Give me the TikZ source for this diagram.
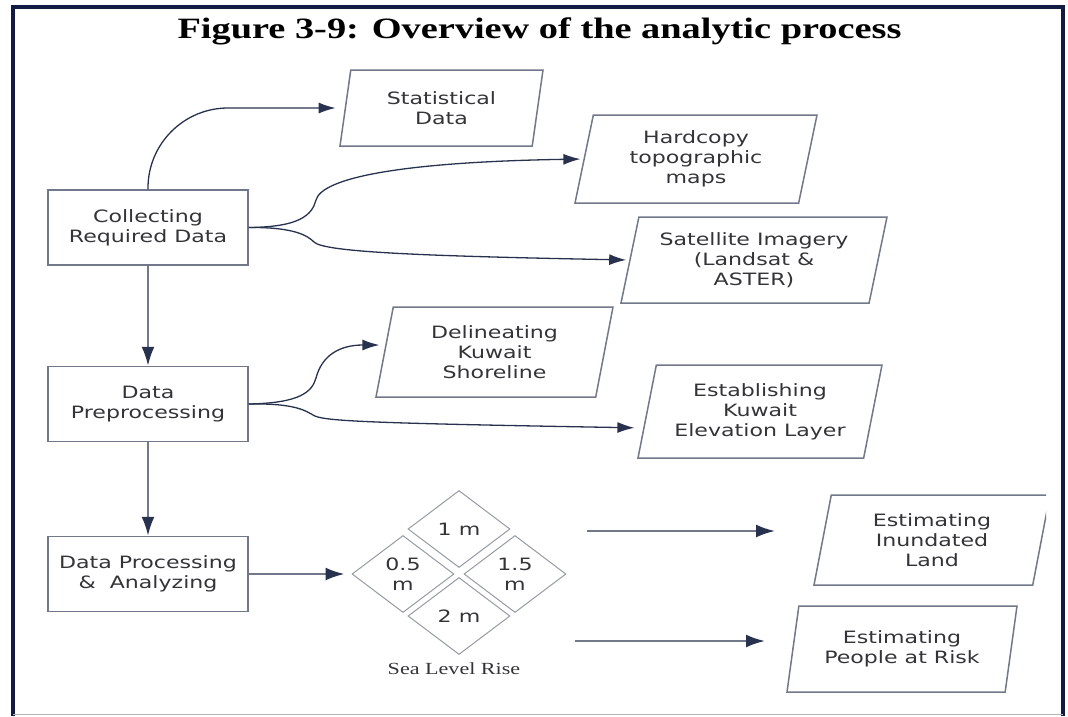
\documentclass[tikz,border=0pt]{standalone}
\usepackage{fontspec}
\usepackage{tikz}
\newfontfamily\titlefont[FakeStretch=1.3]{Liberation Serif}
\newfontfamily\boxfont[FakeStretch=1.3]{DejaVu Sans}
\definecolor{framenavy}{RGB}{18,28,66}
\definecolor{boxgray}{RGB}{112,120,138}
\definecolor{linenavy}{RGB}{40,50,78}
\definecolor{txtgray}{RGB}{52,52,56}
\definecolor{diagray}{RGB}{150,154,164}
\usetikzlibrary{shapes.geometric, arrows.meta}
\tikzstyle{line} = [draw=linenavy, line width=1.3pt, -{Latex[length=17pt,width=11pt]}, shorten >=3pt]
\tikzstyle{vline} = [draw=boxgray, line width=2.2pt, -{Latex[length=19pt,width=13pt,color=linenavy]}]

\begin{document}
\begin{tikzpicture}[x=1pt, y=1pt,
				procbox/.style={draw=boxgray, line width=1.5pt, rectangle, minimum width=200pt, minimum height=75pt, align=center, text=txtgray, font=\boxfont\fontsize{17pt}{20pt}\selectfont},
				databox/.style={draw=boxgray, line width=1.5pt, trapezium, trapezium left angle=72, trapezium right angle=108, trapezium stretches body, inner sep=0pt, align=center, text=txtgray, font=\boxfont\fontsize{17pt}{20pt}\selectfont},
				level/.style={draw=diagray, line width=1pt, diamond, aspect=1.3, inner sep=0pt, minimum width=102pt, minimum height=77pt, align=center, text=txtgray, font=\boxfont\fontsize{17pt}{20pt}\selectfont}]
				\useasboundingbox (0,0) rectangle (1068,-716);
				% Rahmen
				\draw[framenavy, line width=4pt] (13,-716) -- (13,-7) -- (1063,-7) -- (1063,-716);
				\draw[gray!60, line width=1pt] (13,-714.5) -- (1063,-714.5);
				\node[anchor=base, font=\titlefont\bfseries\fontsize{29.5pt}{34pt}\selectfont] (title) at (539.5,-38) {Figure 3-9: Overview of the analytic process};
				% Prozesskette
				\node[procbox] (coll) at (148,-227.5) {Collecting\\Required Data};
				\node[procbox] (prep) at (148,-404) {Data\\Preprocessing};
				\node[procbox] (proc) at (148,-574) {Data Processing\\\&\ \ Analyzing};
				% Daten
				\node[databox, minimum width=203pt, minimum height=76pt] (stat) at (441.5,-108) {Statistical\\Data};
				\node[databox, minimum width=242pt, minimum height=88pt] (hard) at (696,-159) {Hardcopy\\topographic\\maps};
				\node[databox, minimum width=266pt, minimum height=86pt] (sat) at (754,-260) {Satellite Imagery\\(Landsat \&\\ASTER)};
				\node[databox, minimum width=237pt, minimum height=90pt] (delin) at (494.5,-352) {Delineating\\Kuwait\\Shoreline};
				\node[databox, minimum width=244pt, minimum height=93pt] (estab) at (760,-411.5) {Establishing\\Kuwait\\Elevation Layer};
				\begin{scope}
					\clip (0,0) rectangle (1046,-716);
					\node[databox, minimum width=236pt, minimum height=90pt] (inund) at (932,-540) {Estimating\\Inundated\\Land};
				\end{scope}
				\node[databox, minimum width=230pt, minimum height=86pt] (risk) at (902,-649) {Estimating\\People at Risk};
				% Meeresspiegel
				\node[level] (d1) at (459,-529) {1 m};
				\node[level] (d05) at (403,-574) {0.5\\m};
				\node[level] (d15) at (515,-574) {1.5\\m};
				\node[level] (d2) at (459,-616) {2 m};
				\node[text=txtgray, font=\titlefont\fontsize{17pt}{20pt}\selectfont] (sea) at (454,-669) {Sea Level Rise};
				\coordinate (up1) at (587,-531);
				\coordinate (up2) at (775,-531);
				\coordinate (low1) at (575,-641);
				\coordinate (low2) at (765,-641);
				% Pfeile
				\draw[vline] (coll.south) -- (prep.north);
				\draw[vline] (prep.south) -- (proc.north);
				\draw[vline, shorten >=7pt] (proc.east) -- (d05.west);
				\draw[vline] (up1) -- (up2);
				\draw[vline] (low1) -- (low2);
				\draw[line, rounded corners=80pt, shorten >=9pt] (coll.north) |- (stat.west);
				\draw[line] (coll.east) .. controls (300,-227) and (312,-215) .. (316,-200) .. controls (322,-178) and (400,-162) .. (hard.west);
				\draw[line] (coll.east) .. controls (295,-227) and (308,-236) .. (314,-242) .. controls (324,-252) and (420,-256) .. (sat.west);
				\draw[line, shorten >=4.5pt] (prep.east) .. controls (300,-403) and (312,-392) .. (316,-378) .. controls (322,-355) and (340,-345) .. ([yshift=7pt]delin.west);
				\draw[line, shorten >=12pt] (prep.east) .. controls (295,-403) and (306,-411) .. (313,-415) .. controls (322,-421) and (360,-423) .. ([yshift=-16.5pt]estab.west);
			\end{tikzpicture}
\end{document}
